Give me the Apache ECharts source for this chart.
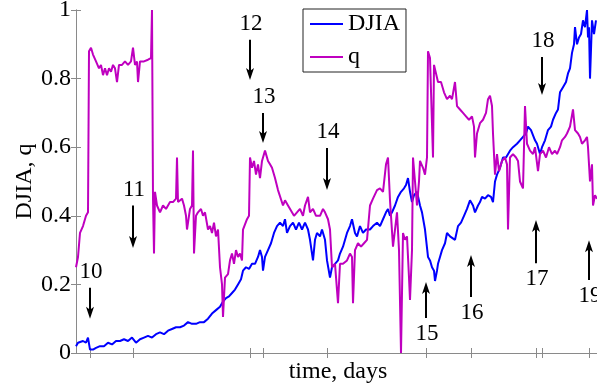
<!DOCTYPE html>
<html>
<head>
<meta charset="utf-8">
<script src="https://cdn.jsdelivr.net/npm/echarts@6/dist/echarts.min.js"></script>
<style>
  html, body { margin: 0; padding: 0; background: #fff; }
  #main { width: 597px; height: 389px; }
</style>
</head>
<body>
<div id="main"></div>
<script>
// [day, value]
var djiaData = [
  [0,0.02],[10,0.03],[20,0.03],[35,0.035],[50,0.03],[60,0.045],[65,0.04],[70,0.01],[85,0.01],[100,0.015],
  [120,0.02],[140,0.02],[160,0.03],[180,0.025],[200,0.035],[220,0.035],[240,0.04],[260,0.035],[280,0.045],[290,0.04],
  [300,0.03],[320,0.04],[340,0.045],[360,0.05],[380,0.045],[400,0.055],[420,0.06],[440,0.055],[460,0.065],[480,0.07],
  [500,0.075],[520,0.075],[540,0.08],[560,0.09],[580,0.085],[600,0.085],[620,0.09],[640,0.09],[660,0.1],[680,0.115],
  [700,0.125],[720,0.135],[735,0.15],[750,0.16],[765,0.165],[780,0.175],[795,0.185],[810,0.2],[825,0.215],[835,0.24],
  [850,0.25],[865,0.245],[880,0.26],[895,0.26],[910,0.28],[920,0.3],[930,0.28],[935,0.24],[945,0.28],[960,0.3],
  [975,0.32],[990,0.35],[1005,0.37],[1020,0.38],[1035,0.37],[1045,0.39],[1055,0.35],[1070,0.37],[1085,0.38],[1100,0.36],
  [1115,0.38],[1130,0.36],[1145,0.38],[1160,0.36],[1170,0.33],[1185,0.27],[1195,0.33],[1205,0.35],[1220,0.34],[1230,0.36],
  [1245,0.33],[1255,0.27],[1270,0.22],[1280,0.25],[1295,0.26],[1310,0.27],[1320,0.29],[1335,0.31],[1355,0.35],[1370,0.37],
  [1380,0.39],[1395,0.35],[1405,0.34],[1420,0.37],[1435,0.35],[1450,0.36],[1470,0.36],[1485,0.37],[1505,0.38],[1520,0.37],
  [1535,0.39],[1550,0.41],[1560,0.42],[1570,0.4],[1580,0.41],[1595,0.43],[1610,0.455],[1625,0.47],[1640,0.48],[1650,0.49],
  [1660,0.51],[1670,0.47],[1680,0.44],[1690,0.46],[1705,0.47],[1720,0.43],[1730,0.41],[1745,0.36],[1760,0.28],[1770,0.27],
  [1780,0.25],[1790,0.24],[1795,0.21],[1805,0.24],[1810,0.26],[1820,0.28],[1830,0.3],[1845,0.32],[1855,0.35],[1870,0.34],
  [1880,0.34],[1895,0.33],[1910,0.37],[1925,0.38],[1940,0.4],[1955,0.42],[1970,0.445],[1985,0.43],[1995,0.41],[2010,0.43],
  [2020,0.44],[2030,0.455],[2045,0.45],[2060,0.46],[2075,0.455],[2085,0.44],[2095,0.5],[2105,0.52],[2120,0.54],[2135,0.57],
  [2150,0.57],[2170,0.59],[2185,0.6],[2205,0.61],[2220,0.62],[2235,0.63],[2250,0.64],[2260,0.66],[2275,0.65],[2285,0.65],
  [2295,0.62],[2305,0.61],[2320,0.58],[2330,0.6],[2345,0.62],[2360,0.65],[2375,0.66],[2385,0.68],[2400,0.7],[2410,0.71],
  [2420,0.76],[2435,0.775],[2450,0.79],[2460,0.815],[2470,0.83],[2480,0.875],[2490,0.9],[2495,0.95],[2505,0.9],[2515,0.92],
  [2525,0.93],[2535,0.97],[2545,0.95],[2555,1.0],[2560,0.92],[2565,0.95],[2570,0.8],[2580,0.97],[2590,0.93],[2600,0.97]
];
var qData = [
  [0,0.25],[10,0.28],[20,0.35],[35,0.37],[50,0.4],[60,0.41],[65,0.88],[75,0.89],[85,0.87],[100,0.85],
  [115,0.83],[125,0.84],[135,0.81],[145,0.83],[155,0.81],[165,0.83],[175,0.82],[185,0.84],[195,0.83],[205,0.79],
  [215,0.84],[230,0.84],[245,0.85],[260,0.84],[275,0.85],[285,0.89],[295,0.84],[305,0.85],[310,0.79],[320,0.85],
  [340,0.85],[360,0.855],[375,0.86],[380,1.0],[385,0.45],[390,0.29],[395,0.47],[405,0.43],[420,0.41],[435,0.43],
  [450,0.42],[470,0.44],[485,0.44],[500,0.45],[505,0.57],[510,0.44],[520,0.44],[530,0.45],[540,0.43],[550,0.4],
  [555,0.36],[570,0.42],[580,0.43],[585,0.59],[590,0.29],[600,0.4],[610,0.41],[625,0.42],[635,0.4],[645,0.41],
  [660,0.36],[670,0.37],[680,0.35],[690,0.38],[700,0.34],[710,0.36],[720,0.25],[730,0.2],[735,0.105],[745,0.22],
  [760,0.23],[770,0.27],[780,0.29],[790,0.26],[800,0.3],[810,0.28],[820,0.29],[830,0.27],[835,0.36],[845,0.36],
  [855,0.39],[865,0.4],[870,0.57],[880,0.54],[890,0.56],[900,0.52],[910,0.55],[920,0.51],[930,0.56],[945,0.59],
  [960,0.56],[970,0.55],[980,0.54],[995,0.51],[1010,0.475],[1020,0.48],[1035,0.43],[1045,0.445],[1060,0.43],[1070,0.43],
  [1090,0.4],[1105,0.41],[1120,0.42],[1135,0.4],[1145,0.43],[1160,0.455],[1170,0.41],[1185,0.42],[1200,0.4],[1220,0.4],
  [1235,0.42],[1245,0.41],[1260,0.39],[1270,0.36],[1280,0.25],[1295,0.26],[1310,0.145],[1320,0.26],[1335,0.26],[1355,0.27],
  [1370,0.29],[1380,0.28],[1385,0.145],[1395,0.3],[1410,0.32],[1425,0.31],[1440,0.32],[1455,0.33],[1470,0.43],[1485,0.45],
  [1505,0.475],[1520,0.48],[1535,0.47],[1550,0.55],[1560,0.57],[1570,0.445],[1585,0.31],[1595,0.36],[1605,0.41],[1615,0.3],
  [1625,0.0],[1635,0.35],[1645,0.33],[1655,0.34],[1665,0.22],[1670,0.155],[1680,0.3],[1685,0.57],[1695,0.5],[1705,0.43],
  [1715,0.5],[1720,0.56],[1735,0.54],[1745,0.52],[1755,0.57],[1760,0.88],[1770,0.86],[1780,0.86],[1785,0.57],[1790,0.84],
  [1800,0.84],[1810,0.79],[1825,0.79],[1840,0.76],[1855,0.74],[1870,0.75],[1880,0.74],[1895,0.79],[1905,0.72],[1920,0.71],
  [1935,0.7],[1950,0.69],[1965,0.68],[1980,0.69],[1990,0.66],[1995,0.57],[2005,0.64],[2020,0.67],[2035,0.68],[2050,0.7],
  [2060,0.74],[2070,0.75],[2080,0.72],[2085,0.64],[2095,0.52],[2105,0.58],[2115,0.53],[2130,0.56],[2145,0.57],[2155,0.55],
  [2160,0.36],[2170,0.57],[2185,0.58],[2200,0.57],[2210,0.56],[2220,0.5],[2235,0.48],[2245,0.72],[2255,0.61],[2270,0.59],
  [2285,0.58],[2295,0.6],[2310,0.53],[2320,0.58],[2335,0.59],[2350,0.57],[2365,0.6],[2380,0.58],[2395,0.59],[2405,0.58],
  [2420,0.6],[2430,0.62],[2445,0.63],[2455,0.64],[2470,0.66],[2485,0.71],[2495,0.65],[2510,0.64],[2520,0.63],[2530,0.61],
  [2545,0.62],[2555,0.63],[2560,0.6],[2570,0.5],[2580,0.55],[2585,0.43],[2595,0.46],[2605,0.45]
];
// annotated events: day, label, arrow from value, arrow to value
var eventDays   = [70, 285, 870, 935, 1255, 1750, 1975, 2300, 2330, 2565];
var eventLabels = ['10', '11', '12', '13', '14', '15', '16', '17', '18', '19'];
var arrowFrom   = [0.19, 0.43, 0.913, 0.70, 0.598, 0.102, 0.163, 0.262, 0.863, 0.213];
var arrowTo     = [0.10, 0.306, 0.796, 0.612, 0.475, 0.207, 0.286, 0.388, 0.752, 0.329];

var font = 'Liberation Serif';
var axisColor = '#8a8a8a';

var arrowData = eventDays.map(function (d, i) {
  return [d, arrowFrom[i], arrowTo[i], eventLabels[i]];
});

function renderArrow(params, api) {
  var p1 = api.coord([api.value(0), api.value(1)]);
  var p2 = api.coord([api.value(0), api.value(2)]);
  var dir = p2[1] > p1[1] ? 1 : -1;
  var x = p1[0];
  var head = 12;
  return {
    type: 'group',
    children: [{
      type: 'line',
      shape: { x1: x, y1: p1[1], x2: x, y2: p2[1] - dir * 8 },
      style: { stroke: '#000', lineWidth: 2 }
    }, {
      type: 'polygon',
      shape: { points: [[x, p2[1]], [x - 4, p2[1] - dir * head], [x, p2[1] - dir * 9], [x + 4, p2[1] - dir * head]] },
      style: { fill: '#000' }
    }, {
      type: 'text',
      x: x + 1,
      y: p1[1] - dir * 16,
      style: {
        text: arrowData[params.dataIndex][3],
        fill: '#000',
        font: '23px "' + font + '"',
        align: 'center',
        verticalAlign: 'middle'
      }
    }]
  };
}

var chart = echarts.init(document.getElementById('main'), null, { renderer: 'canvas' });
var option = {
  animation: false,
  backgroundColor: '#fff',
  grid: { left: 76, top: 10, right: -3, bottom: 36, outerBoundsMode: 'none' },
  legend: {
    left: 303,
    top: 9,
    orient: 'vertical',
    icon: 'rect',
    itemWidth: 33,
    itemHeight: 2,
    itemGap: 9,
    padding: [3, 6, 3, 7],
    borderColor: '#222',
    borderWidth: 1,
    backgroundColor: '#fff',
    textStyle: { fontFamily: font, fontSize: 24, color: '#000', lineHeight: 24 },
    data: ['DJIA', 'q']
  },
  xAxis: [{
    type: 'value',
    min: 0,
    max: 2620,
    name: 'time, days',
    nameLocation: 'middle',
    nameGap: 7,
    nameMoveOverlap: false,
    nameTextStyle: { fontFamily: font, fontSize: 24, color: '#000' },
    axisLine: { lineStyle: { color: axisColor } },
    axisTick: { inside: true, length: 5, customValues: eventDays, lineStyle: { color: axisColor } },
    axisLabel: { show: false },
    splitLine: { show: false }
  }, {
    type: 'value',
    position: 'top',
    min: 0,
    max: 2620,
    axisLine: { lineStyle: { color: axisColor } },
    axisTick: { inside: true, length: 5, customValues: eventDays, lineStyle: { color: axisColor } },
    axisLabel: { show: false },
    splitLine: { show: false }
  }],
  yAxis: [{
    type: 'value',
    min: 0,
    max: 1,
    interval: 0.2,
    name: 'DJIA, q',
    nameLocation: 'middle',
    nameGap: 39,
    nameMoveOverlap: false,
    nameTextStyle: { fontFamily: font, fontSize: 24, color: '#000' },
    axisLine: { show: true, lineStyle: { color: axisColor } },
    axisTick: { show: true, inside: true, length: 5, lineStyle: { color: axisColor } },
    axisLabel: { fontFamily: font, fontSize: 24, color: '#000', margin: 5 },
    splitLine: { show: false }
  }, {
    type: 'value',
    position: 'right',
    min: 0,
    max: 1,
    interval: 0.2,
    axisLine: { show: true, lineStyle: { color: axisColor } },
    axisTick: { show: true, inside: true, length: 5, lineStyle: { color: axisColor } },
    axisLabel: { show: false },
    splitLine: { show: false }
  }],
  series: [{
    name: 'DJIA',
    type: 'line',
    data: djiaData,
    showSymbol: false,
    color: '#0000ff',
    lineStyle: { width: 2, color: '#0000ff' }
  }, {
    name: 'q',
    type: 'line',
    data: qData,
    showSymbol: false,
    color: '#bf00bf',
    lineStyle: { width: 2, color: '#bf00bf' }
  }, {
    type: 'custom',
    renderItem: renderArrow,
    data: arrowData,
    clip: false,
    silent: true,
    z: 5
  }]
};
chart.setOption(option);
</script>
</body>
</html>
